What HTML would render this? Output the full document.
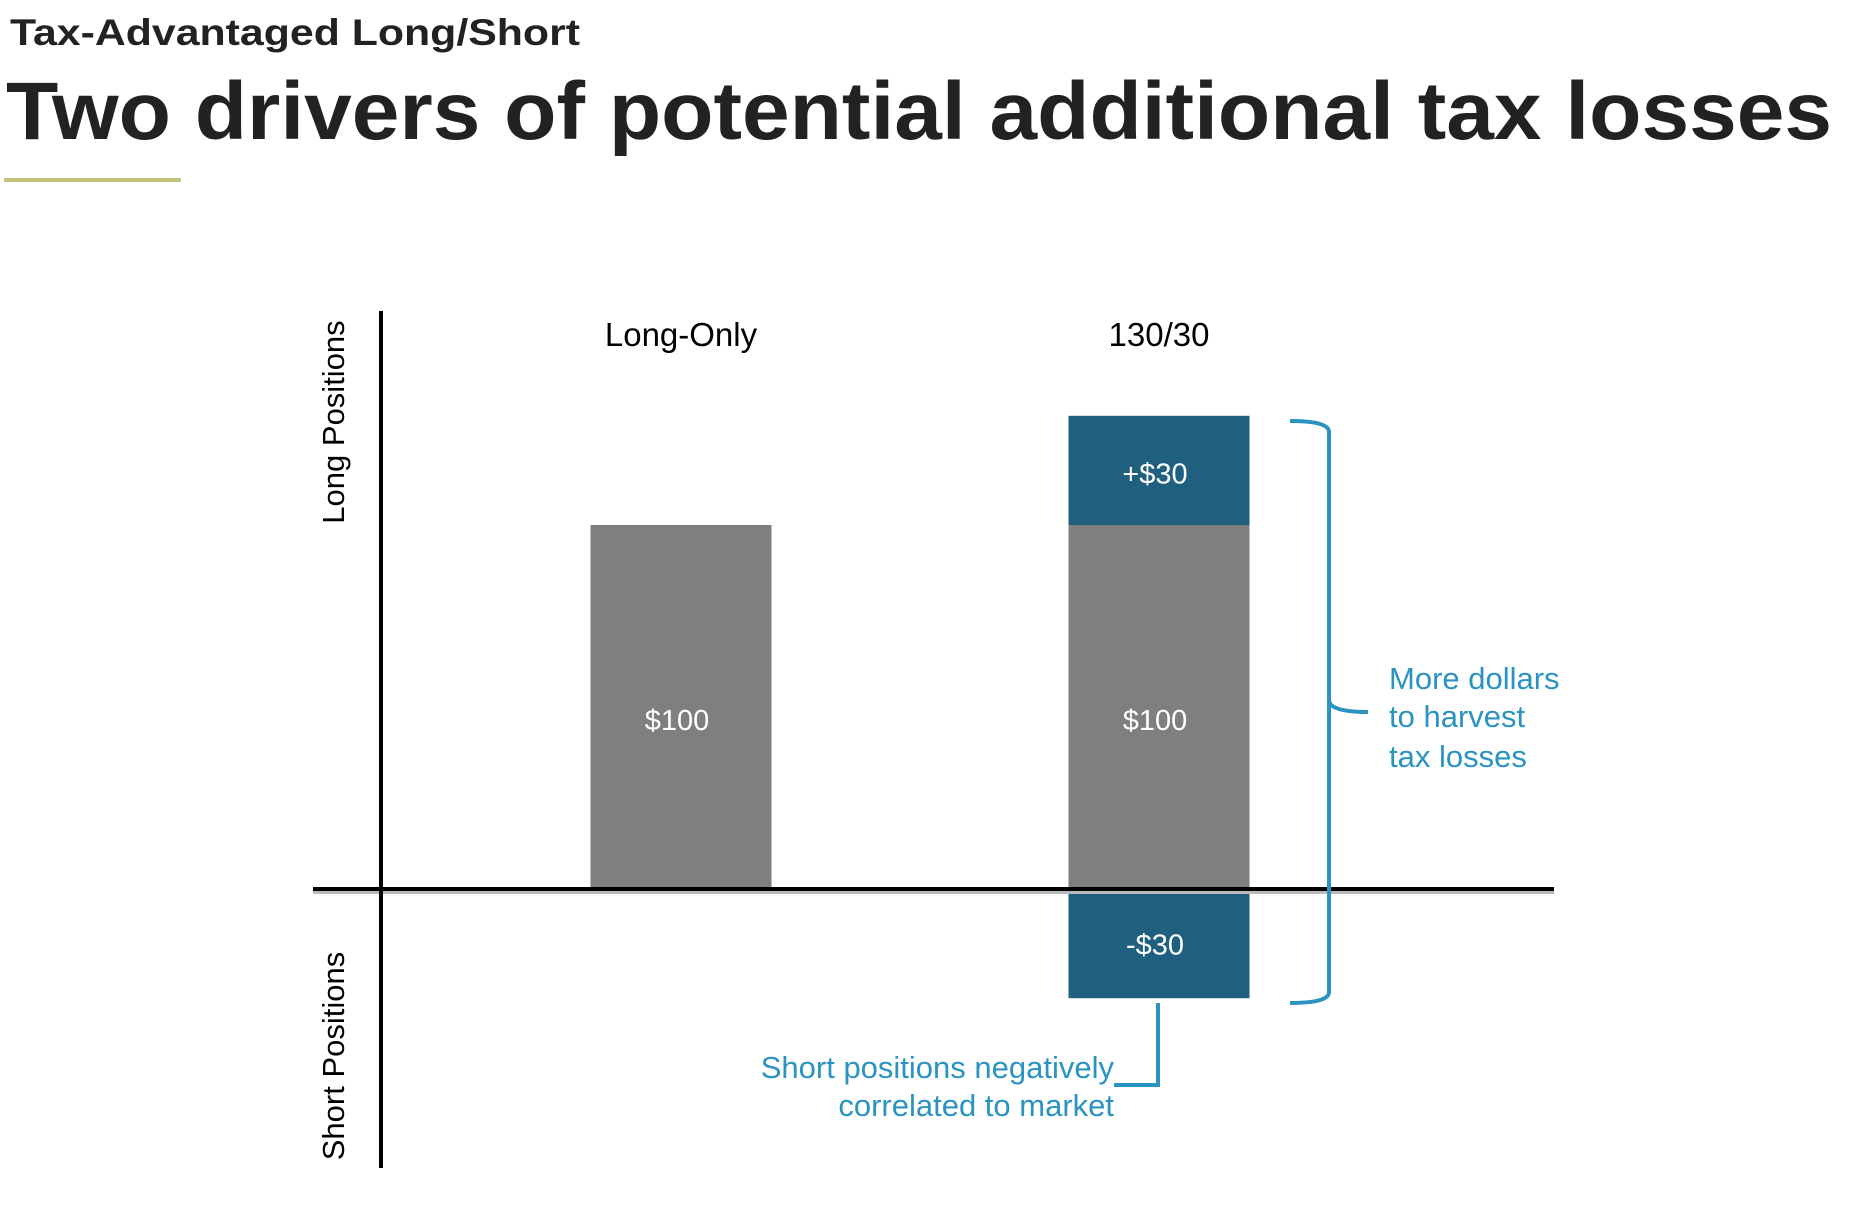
<!DOCTYPE html>
<html><head><meta charset="utf-8"><style>
html,body{margin:0;padding:0;background:#fff;}
svg{display:block;font-family:"Liberation Sans",Arial,sans-serif;}
</style></head><body>
<svg id="chart" width="1849" height="1220" viewBox="0 0 1849 1220" xmlns="http://www.w3.org/2000/svg">
<text x="10" y="45" font-size="37" font-weight="bold" fill="#222" textLength="570" lengthAdjust="spacingAndGlyphs">Tax-Advantaged Long/Short</text>
<text x="6" y="139" font-size="82" font-weight="bold" fill="#222" textLength="1826" lengthAdjust="spacingAndGlyphs">Two drivers of potential additional tax losses</text>
<rect x="4" y="178" width="177" height="4" fill="#c5c27a"/>
<g id="plot"></g>
<line x1="313" y1="892" x2="1554" y2="892" stroke="#bbb" stroke-width="4"/>
<line x1="313" y1="889" x2="1554" y2="889" stroke="#000" stroke-width="4"/>
<line x1="381" y1="311" x2="381" y2="1168" stroke="#000" stroke-width="4"/>
<text transform="translate(344,422) rotate(-90)" text-anchor="middle" font-size="31" fill="#000">Long Positions</text>
<text transform="translate(344,1056) rotate(-90)" text-anchor="middle" font-size="31" fill="#000">Short Positions</text>
<path d="M1297 421 Q1336 421 1336 432 L1336 700 Q1336 712 1375 712 M1336 700 Q1336 712 1336 724 L1336 992 Q1336 1003 1297 1003" fill="none" stroke="#2a93c1" stroke-width="4" transform="translate(-7,0)"/>
<text font-size="31" fill="#2a93c1"><tspan x="1389" y="689">More dollars</tspan><tspan x="1389" y="727">to harvest</tspan><tspan x="1389" y="767">tax losses</tspan></text>
<path d="M1158 1003 L1158 1085 L1114 1085" fill="none" stroke="#2a93c1" stroke-width="4"/>
<text font-size="31" fill="#2a93c1" text-anchor="end"><tspan x="1114" y="1078">Short positions negatively</tspan><tspan x="1114" y="1116">correlated to market</tspan></text>
</svg>
<script>
const categories = ["Long-Only", "130/30"];
const coreLong = [100, 100];
const extraLong = [0, 30];
const shortVals = [0, -30];
const NS = "http://www.w3.org/2000/svg";
const g = document.getElementById("plot");
const y0 = 889, pxPer = 3.64;
function yScale(v){ return y0 - v * pxPer; }
function xCenter(i){ return 681 + i * 478; }
const barW = 181;
function rect(x, v0, v1, fill, name){
  const r = document.createElementNS(NS, "rect");
  r.setAttribute("x", x - barW/2);
  r.setAttribute("y", Math.min(yScale(v0), yScale(v1)));
  r.setAttribute("width", barW);
  r.setAttribute("height", Math.abs(yScale(v0) - yScale(v1)));
  r.setAttribute("fill", fill);
  
  
  g.appendChild(r);
}
function label(x, y, txt, size, fill, name){
  const t = document.createElementNS(NS, "text");
  t.setAttribute("x", x); t.setAttribute("y", y);
  t.setAttribute("text-anchor", "middle");
  t.setAttribute("font-size", size);
  t.setAttribute("fill", fill);
  t.textContent = txt;
  
  
  g.appendChild(t);
}
categories.forEach((c, i) => {
  const cx = xCenter(i);
  label(cx, 346, c, 33, "#000", "category-label");
  rect(cx, 0, coreLong[i], "#7f7f7f", "bar-core-long");
  label(cx - 4, yScale(coreLong[i]/2) + 23, "$" + coreLong[i], 29, "#fff", "value-label");
  if (extraLong[i]) {
    rect(cx, coreLong[i], coreLong[i] + extraLong[i], "#1f5f80", "bar-extra-long");
    label(cx - 4, yScale(coreLong[i] + extraLong[i]/2) + 13, "+$" + extraLong[i], 29, "#fff", "value-label");
  }
  if (shortVals[i]) {
    rect(cx, 0, shortVals[i], "#1f5f80", "bar-short");
    label(cx - 4, yScale(shortVals[i]/2) + 11, "-$" + Math.abs(shortVals[i]), 29, "#fff", "value-label");
  }
});
</script>
</body></html>
